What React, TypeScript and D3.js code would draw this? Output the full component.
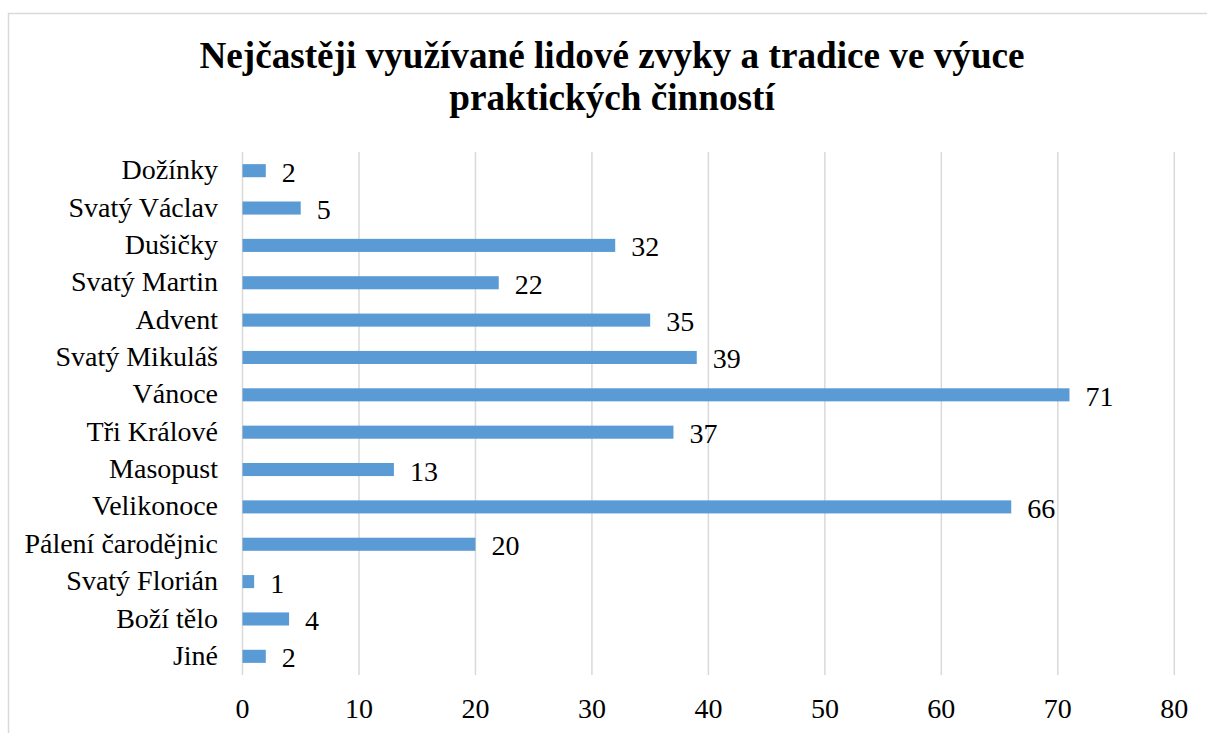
import React from "react";
import * as d3 from "d3";

const categories = [
  "Dožínky",
  "Svatý Václav",
  "Dušičky",
  "Svatý Martin",
  "Advent",
  "Svatý Mikuláš",
  "Vánoce",
  "Tři Králové",
  "Masopust",
  "Velikonoce",
  "Pálení čarodějnic",
  "Svatý Florián",
  "Boží tělo",
  "Jiné",
];
const values = [2, 5, 32, 22, 35, 39, 71, 37, 13, 66, 20, 1, 4, 2];
const xTicks = [0, 10, 20, 30, 40, 50, 60, 70, 80];
const titleLines = [
  "Nejčastěji využívané lidové zvyky a tradice ve výuce",
  "praktických činností",
];

const W = 1207;
const H = 733;
const font = "Liberation Serif";

export default function App() {
  const x = d3.scaleLinear().domain([0, 80]).range([242.5, 1174.3]);
  const y = d3
    .scaleBand<string>()
    .domain(categories)
    .range([152, 675])
    .paddingInner(0.65)
    .paddingOuter(0.325);
  const grid = "#d9d9d9";
  return (
    <svg
      width={W}
      height={H}
      style={{ position: "absolute", left: 0, top: 0, background: "#fff" }}
    >
      <rect x={8.5} y={13.5} width={1205} height={730} fill="#fff" stroke="#d9d9d9" strokeWidth={1.5} />
      {titleLines.map((t, i) => (
        <text
          key={i}
          x={612}
          y={68 + i * 42}
          textAnchor="middle"
          fontFamily={font}
          fontWeight="bold"
          fontSize={37.2}
          fill="#000"
        >
          {t}
        </text>
      ))}
      {xTicks.map((t) => (
        <g key={t}>
          <line x1={x(t)} x2={x(t)} y1={152} y2={675} stroke={grid} strokeWidth={1.5} />
          <text
            x={x(t)}
            y={718}
            textAnchor="middle"
            fontFamily={font}
            fontSize={28}
            fill="#000"
          >
            {t}
          </text>
        </g>
      ))}
      {categories.map((c, i) => {
        const yy = y(c)!;
        const bh = y.bandwidth();
        const cy = yy + bh / 2;
        return (
          <g key={c}>
            <rect x={x(0)} y={yy} width={x(values[i]) - x(0)} height={bh} fill="#5B9BD5" />
            <text
              x={218}
              y={cy + 8.6}
              textAnchor="end"
              fontFamily={font}
              fontSize={28}
              fill="#000"
            >
              {c}
            </text>
            <text
              x={x(values[i]) + 16}
              y={cy + 11}
              textAnchor="start"
              fontFamily={font}
              fontSize={28}
              fill="#000"
            >
              {values[i]}
            </text>
          </g>
        );
      })}
    </svg>
  );
}
